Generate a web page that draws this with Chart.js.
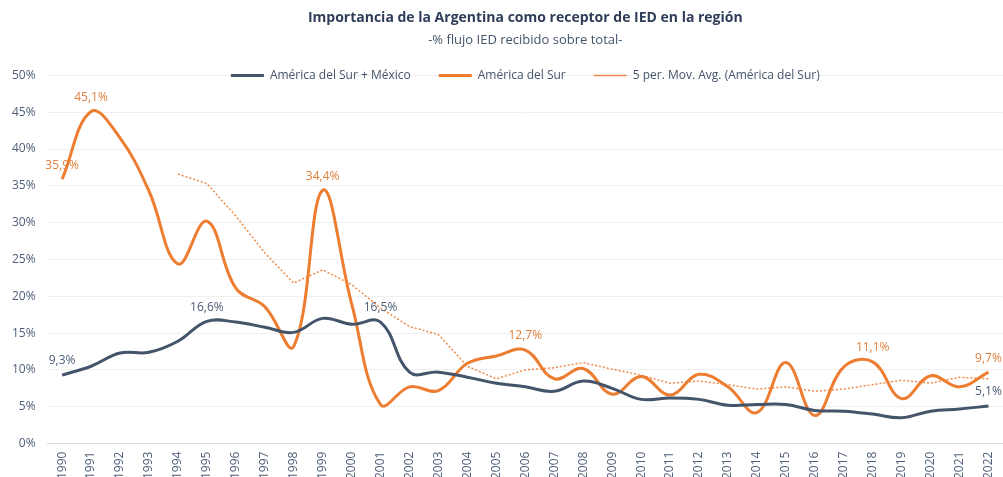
<!DOCTYPE html>
<html lang="es">
<head>
<meta charset="utf-8">
<title>Importancia de la Argentina como receptor de IED en la región</title>
<script src="https://cdn.jsdelivr.net/npm/chart.js@4.4.0/dist/chart.umd.min.js"></script>
<style>
  html, body { margin: 0; padding: 0; background: #fff; overflow: hidden; }
  /* algo más grande que la ventana: los años y las etiquetas del borde quedan cortados como en el original */
  #wrap { width: 1011px; height: 487px; }
</style>
</head>
<body>
<div id="wrap"><canvas id="iedChart"></canvas></div>
<script>
// Datos (% del flujo de IED recibido)
const years = ['1990','1991','1992','1993','1994','1995','1996','1997','1998','1999',
               '2000','2001','2002','2003','2004','2005','2006','2007','2008','2009',
               '2010','2011','2012','2013','2014','2015','2016','2017','2018','2019',
               '2020','2021','2022'];

const surMexico = [9.3, 10.5, 12.3, 12.4, 13.9, 16.6, 16.5, 15.8, 15.1, 17.0,
                   16.2, 16.5, 9.7, 9.7, 9.0, 8.2, 7.7, 7.1, 8.5, 7.5,
                   6.0, 6.2, 6.0, 5.2, 5.3, 5.3, 4.5, 4.4, 4.0, 3.5,
                   4.4, 4.7, 5.1];

const sur = [35.9, 45.1, 41.5, 34.3, 24.4, 30.2, 21.1, 18.6, 13.2, 34.4,
             19.0, 5.3, 7.7, 7.2, 10.9, 11.9, 12.7, 8.8, 10.2, 6.7,
             9.1, 6.6, 9.4, 7.7, 4.2, 11.0, 3.8, 10.4, 11.1, 6.1,
             9.2, 7.7, 9.7];

const surMovAvg = [null, null, null, null, 36.6, 35.3, 30.9, 25.9, 21.8, 23.6,
                   21.6, 18.4, 15.9, 14.8, 10.5, 8.8, 10.0, 10.3, 11.0, 10.1,
                   9.3, 8.2, 8.5, 8.0, 7.4, 7.7, 7.1, 7.4, 8.0, 8.6,
                   8.2, 9.0, 8.8];

// años con etiqueta de valor en cada serie
const surMexicoMarcas = ['1990', '1995', '2001', '2022'];
const surMarcas = ['1990', '1991', '1999', '2006', '2018', '2022'];

const AZUL = '#44546a';
const NARANJA = '#ed7d31';

Chart.defaults.font.family = "'Open Sans', sans-serif";
Chart.defaults.color = '#4e5d78';

function formatoPct(v) {
    return v.toFixed(1).replace('.', ',') + '%';
}

// etiquetas de datos sobre los puntos marcados
const etiquetas = {
    id: 'etiquetas',
    afterDatasetsDraw(chart) {
        const ctx = chart.ctx;
        ctx.save();
        ctx.font = "12px 'Open Sans'";
        ctx.textAlign = 'center';
        ctx.textBaseline = 'bottom';
        [[0, surMexicoMarcas, '#4d5b77'], [1, surMarcas, '#e0803f']].forEach(([idx, marcas, color]) => {
            const meta = chart.getDatasetMeta(idx);
            ctx.fillStyle = color;
            marcas.forEach(anio => {
                const i = years.indexOf(anio);
                const pt = meta.data[i];
                ctx.fillText(formatoPct(chart.data.datasets[idx].data[i]), pt.x, pt.y - 8);
            });
        });
        ctx.restore();
    }
};

// la leyenda va sobre la línea del 50%, como en el original
const bajarLeyenda = {
    id: 'bajarLeyenda',
    afterLayout(chart) {
        const l = chart.legend;
        const pad = l.options.labels.padding;
        l.top = chart.chartArea.top - pad - 6;
        l.bottom = l.top + 2 * pad + 12;
    }
};

const ctx = document.getElementById('iedChart').getContext('2d');
new Chart(ctx, {
    type: 'line',
    data: {
        labels: years,
        datasets: [{
            label: 'América del Sur + México',
            data: surMexico,
            borderColor: AZUL,
            backgroundColor: AZUL,
            borderWidth: 3,
            tension: 0.4,
            pointRadius: 0
        }, {
            label: 'América del Sur',
            data: sur,
            borderColor: NARANJA,
            backgroundColor: NARANJA,
            borderWidth: 3,
            tension: 0.4,
            pointRadius: 0
        }, {
            label: '5 per. Mov. Avg. (América del Sur)',
            data: surMovAvg,
            borderColor: '#f08a4b',
            backgroundColor: '#f08a4b',
            borderWidth: 1.5,
            borderDash: [2, 2],
            tension: 0,
            pointRadius: 0
        }]
    },
    options: {
        responsive: true,
        maintainAspectRatio: false,
        animation: false,
        layout: { padding: { left: 0, right: 0, top: 0, bottom: 0 } },
        plugins: {
            title: {
                display: true,
                text: 'Importancia de la Argentina como receptor de IED en la región',
                color: '#2f3d58',
                font: { size: 14, weight: 'bold' },
                padding: { top: 10, bottom: 4 },
                fullSize: false
            },
            subtitle: {
                display: true,
                text: '-% flujo IED recibido sobre total-',
                color: '#44546a',
                font: { size: 13 },
                padding: { top: 2, bottom: 7 },
                fullSize: false
            },
            legend: {
                position: 'top',
                fullSize: false,
                maxHeight: 20,
                labels: {
                    usePointStyle: true,
                    pointStyle: 'line',
                    pointStyleWidth: 33,
                    padding: 28,
                    color: '#44546a',
                    font: { size: 12 }
                }
            },
            tooltip: { enabled: false }
        },
        scales: {
            y: {
                min: 0,
                max: 50,
                ticks: {
                    stepSize: 5,
                    padding: 12,
                    font: { size: 12 },
                    callback: v => v + '%'
                },
                grid: { color: '#efefef', drawTicks: false },
                border: { display: false }
            },
            x: {
                offset: true,
                ticks: {
                    minRotation: 90,
                    maxRotation: 90,
                    padding: 8,
                    autoSkip: false,
                    font: { size: 12 }
                },
                grid: { display: false, drawTicks: false },
                border: { display: true, color: '#d9d9d9', width: 1 }
            }
        }
    },
    plugins: [etiquetas, bajarLeyenda]
});
</script>
</body>
</html>
